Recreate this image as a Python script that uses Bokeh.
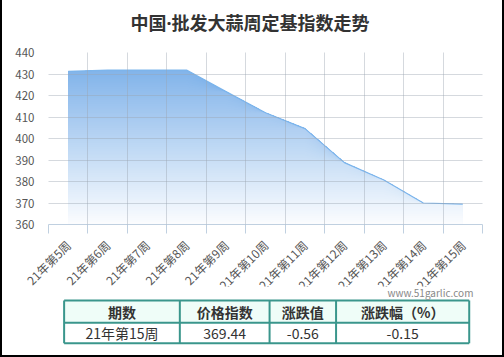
import numpy as np
from bokeh.plotting import figure
from bokeh.layouts import column
from bokeh.models import Range1d, FixedTicker, Title
from bokeh.core.properties import value
from bokeh.embed import file_html
from bokeh.resources import INLINE

# ---------------- data ----------------
weeks = ["21年第5周", "21年第6周", "21年第7周", "21年第8周", "21年第9周", "21年第10周",
         "21年第11周", "21年第12周", "21年第13周", "21年第14周", "21年第15周"]
index_values = [431.2, 431.8, 431.8, 431.8, 421.8, 412.0, 404.6, 388.8, 380.7, 370.0, 369.44]
y_ticks = [360, 370, 380, 390, 400, 410, 420, 430, 440]
title_text = "中国·批发大蒜周定基指数走势"
table_headers = ["期数", "价格指数", "涨跌值", "涨跌幅（%）"]
table_row = ["21年第15周", "369.44", "-0.56", "-0.15"]
watermark = "www.51garlic.com"

FONT = "Noto Sans CJK SC"
TITLE_FONT = "Noto Sans, Noto Sans CJK SC"

n = len(weeks)
xs = np.arange(n) + 0.5
vals = np.array(index_values)
y_min, y_max = y_ticks[0], y_ticks[-1]

CHART_H = 301
OVERLAP = 15

# ---------------- chart ----------------
p = figure(width=500, height=CHART_H, output_backend="svg", toolbar_location=None,
           x_range=Range1d(0, n), y_range=Range1d(y_min, y_max),
           min_border_left=46, min_border_right=20, min_border_top=52,
           min_border_bottom=CHART_H - 225)
p.background_fill_color = "white"
p.border_fill_color = "white"
p.outline_line_color = None

# real title, with an empty spacer title between it and the frame
p.title.text = title_text
p.title.align = "left"
p.title.offset = 82
p.title.standoff = 10
p.title.text_font = TITLE_FONT
p.title.text_font_size = "18px"
p.title.text_font_style = "bold"
p.title.text_color = "#333333"
p.add_layout(Title(text=" ", text_font_size="10px", standoff=0), "above")

# gradient area: overlapping areas, each one lower and lighter
levels = np.linspace(y_min, y_max, 81)
top_rgb = np.array([116, 172, 232])
bot_rgb = np.array([252, 253, 255])
for hi in levels[::-1]:
    if hi <= y_min:
        break
    tt = (hi - 0.5 - y_min) / (y_max - y_min)
    c = (bot_rgb + (top_rgb - bot_rgb) * tt).astype(int)
    col = "#%02x%02x%02x" % tuple(c)
    p.varea(x=xs, y1=np.full(n, float(y_min)), y2=np.minimum(vals, hi), fill_color=col)

p.line(xs, vals, line_color="#7cb5ec", line_width=1.2)

# axes
p.xaxis.ticker = FixedTicker(ticks=list(xs), minor_ticks=list(range(n + 1)))
p.xaxis.major_label_overrides = {float(x): w for x, w in zip(xs, weeks)}
p.xaxis.major_label_orientation = np.pi / 4
p.xaxis.major_tick_line_color = None
p.xaxis.major_tick_out = 0
p.xaxis.major_tick_in = 0
p.xaxis.minor_tick_line_color = "#c0d0e0"
p.xaxis.minor_tick_out = 9
p.xaxis.minor_tick_in = 0
p.xaxis.axis_line_color = "#c0d0e0"
p.xaxis.major_label_standoff = 9
p.xaxis.major_label_text_font = FONT
p.xaxis.major_label_text_font_size = "12px"
p.xaxis.major_label_text_color = "#555555"

p.yaxis.ticker = FixedTicker(ticks=y_ticks)
p.yaxis.axis_line_color = None
p.yaxis.major_tick_line_color = None
p.yaxis.minor_tick_line_color = None
p.yaxis.major_tick_out = 0
p.yaxis.major_tick_in = 0
p.yaxis.major_label_standoff = 14
p.yaxis.major_label_text_font = FONT
p.yaxis.major_label_text_font_size = "11.5px"
p.yaxis.major_label_text_color = "#555555"

p.xgrid.ticker = FixedTicker(ticks=list(range(n + 1)))
p.grid.level = "overlay"
p.grid.grid_line_color = "#9aa4b0"
p.grid.grid_line_alpha = 0.42

# ---------------- table ----------------
T_TOP = CHART_H - OVERLAP
t = figure(width=500, height=355 - T_TOP, output_backend="svg", toolbar_location=None,
           x_range=Range1d(2, 502), y_range=Range1d(355, T_TOP), min_border=0,
           margin=(-OVERLAP, 0, 0, 0))
t.axis.visible = False
t.grid.visible = False
t.outline_line_color = None
t.background_fill_color = "white"
t.border_fill_color = "white"

col_edges = [20, 153.3, 256.7, 333.3, 486.7]
row_edges = [300, 322.3, 342.7]
teal = "#3a968c"
t.quad(left=col_edges[0], right=col_edges[-1], top=row_edges[0], bottom=row_edges[1],
       fill_color="#effdf8", line_color=None)
for ry in row_edges:
    t.segment(x0=col_edges[0], y0=ry, x1=col_edges[-1], y1=ry, line_color=teal, line_width=2)
for cx in col_edges:
    t.segment(x0=cx, y0=row_edges[0], x1=cx, y1=row_edges[-1], line_color=teal, line_width=2)

centers = [(a + b) / 2 for a, b in zip(col_edges[:-1], col_edges[1:])]
t.text(x=centers, y=[(row_edges[0] + row_edges[1]) / 2] * 4, text=table_headers,
       text_align="center", text_baseline="middle", text_font=value(FONT),
       text_font_size="14px", text_font_style="bold", text_color="#333333")
t.text(x=centers, y=[(row_edges[1] + row_edges[2]) / 2] * 4, text=table_row,
       text_align="center", text_baseline="middle", text_font=value(FONT),
       text_font_size="14px", text_color="#333333")
t.text(x=[491.5], y=[291.5], text=[watermark], text_align="right", text_baseline="middle",
       text_font=value(FONT), text_font_size="10px", text_color="#888888")

layout = column(p, t, spacing=0,
                styles={"border-left": "2px solid #000", "border-right": "2px solid #000",
                        "border-bottom": "2px solid #000", "background-color": "white"})

open("out.html", "w").write(file_html(layout, INLINE))
